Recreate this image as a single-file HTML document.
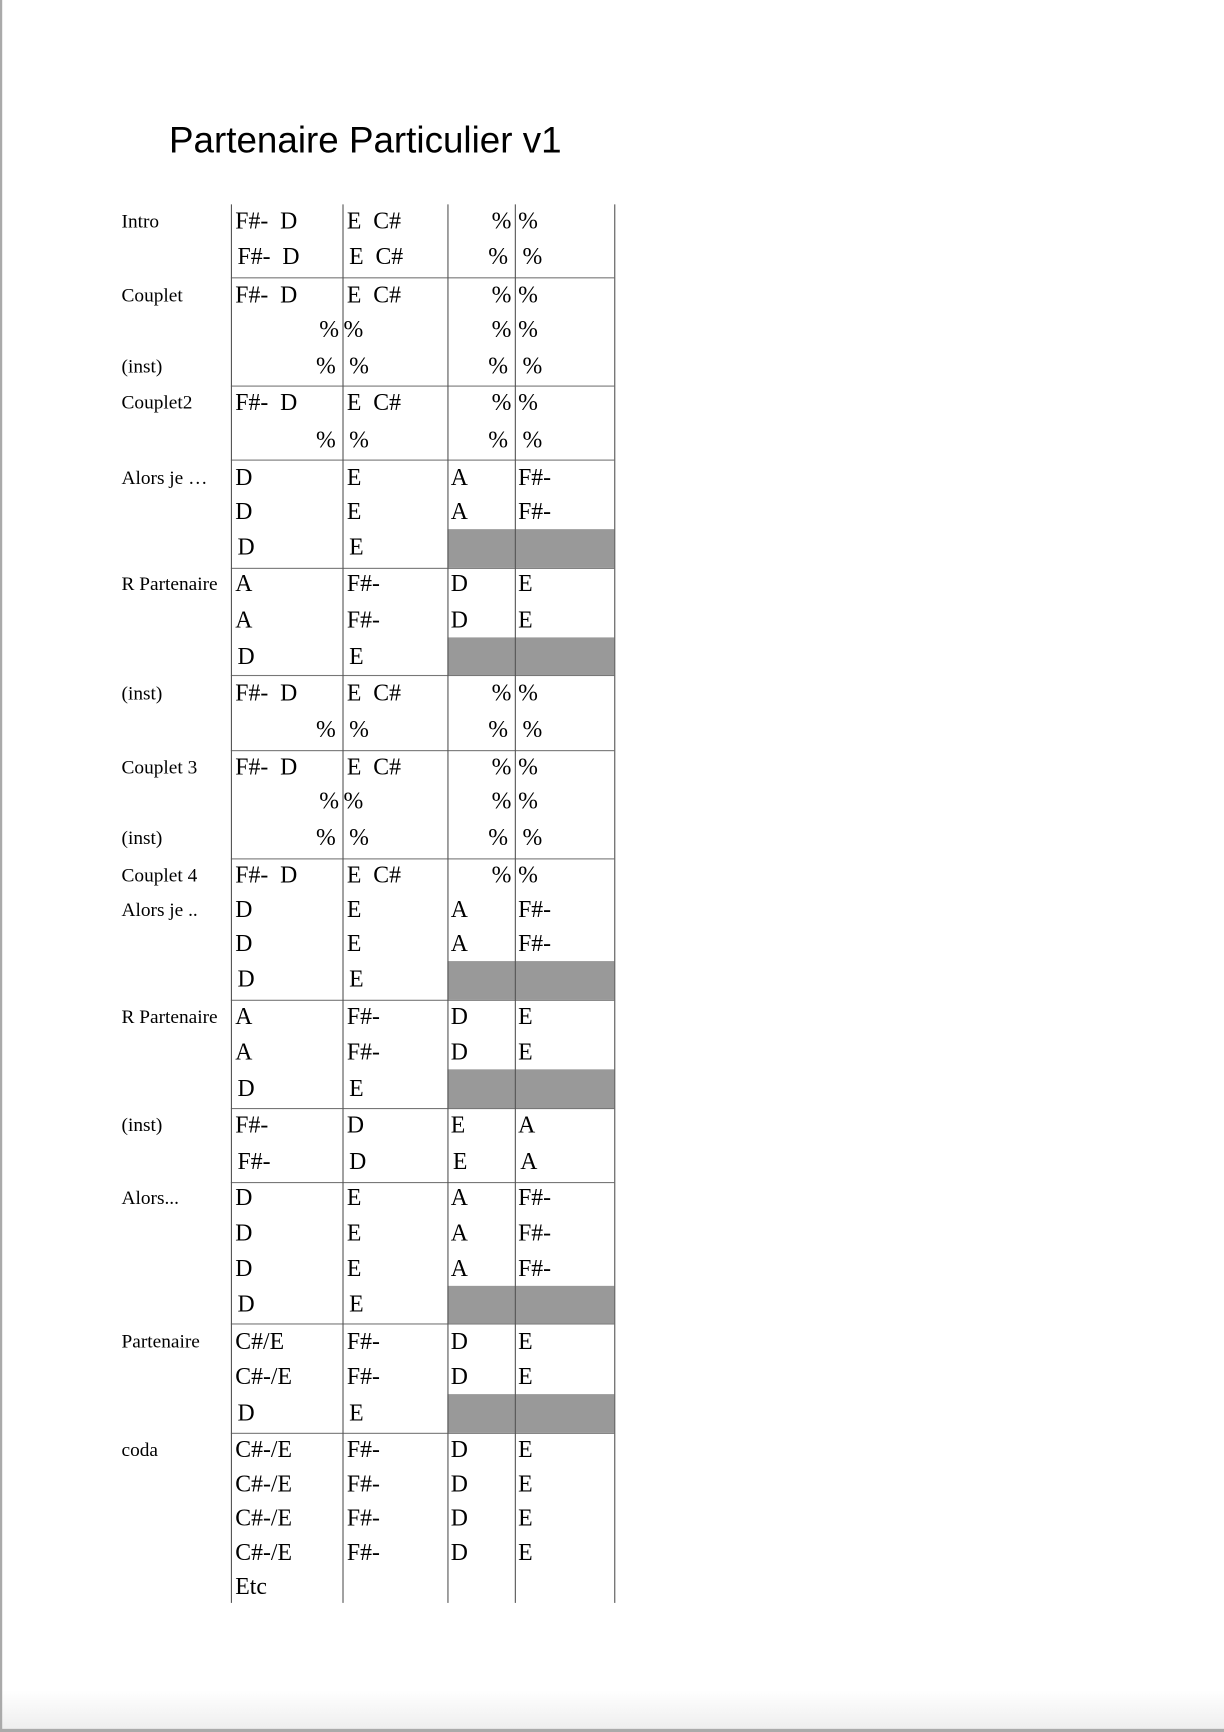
<!DOCTYPE html>
<html><head><meta charset="utf-8"><style>
html,body{margin:0;padding:0;background:#fff;width:1224px;height:1732px;overflow:hidden}
#wrap{position:absolute;left:0;top:0;width:1108px;height:1568px;transform:scale(1.10469);transform-origin:0 0;background:#fff}
.t{position:absolute;font-family:"Liberation Serif",serif;font-size:21.5px;line-height:20px;color:#000;white-space:pre}
.l{font-size:17.5px}
.vl{position:absolute;width:1px;background:#555}
.hl{position:absolute;height:1px;background:#777;left:209px;width:347px}
.g{position:absolute;background:#999;left:405px;width:151px}
</style></head><body>
<div id="wrap">
<div style="position:absolute;left:0;top:1530px;width:1108px;height:36px;background:linear-gradient(#fff,#eee)"></div>
<div style="position:absolute;left:0;top:1565px;width:1108px;height:3px;background:#aaa"></div>
<div style="position:absolute;left:0;top:0;width:2px;height:1568px;background:#aaa"></div>
<div class="t" style="left:153px;top:110px;font-family:'Liberation Sans',sans-serif;font-size:33.3px;line-height:36px">Partenaire Particulier v1</div>
<div id="grid"></div>
</div>
<script>
const rowLines=[251,349,416,514,611,679,777,905,1003,1070,1198,1297];
const colLines=[209,310,405,466,556];
const grayRows=[[479,514],[577,611],[870,905],[968,1003],[1164,1198],[1262,1297]];
const labels=[[200,'Intro'],[267,'Couplet'],[331,'(inst)'],[364,'Couplet2'],[432,'Alors je …'],[528,'R Partenaire'],[627,'(inst)'],[694,'Couplet 3'],[758,'(inst)'],[792,'Couplet 4'],[823,'Alors je ..'],[920,'R Partenaire'],[1018,'(inst)'],[1084,'Alors...'],[1214,'Partenaire'],[1312,'coda']];
const A1=['F#-  D',213,'E  C#',314,'%',445,'%',469];
const A2=['F#-  D',215,'E  C#',316,'%',442,'%',473];
const P1=['%',289,'%',311,'%',445,'%',469];
const P2=['%',286,'%',316,'%',442,'%',473];
const DEAF=['D',213,'E',314,'A',408,'F#-',469];
const DE=['D',215,'E',316];
const AFDE=['A',213,'F#-',314,'D',408,'E',469];
const CFDE=['C#-/E',213,'F#-',314,'D',408,'E',469];
const rows=[[200,A1],[232,A2],[267,A1],[298,P1],[331,P2],[364,A1],[398,P2],
[432,DEAF],[463,DEAF],[495,DE],[528,AFDE],[561,AFDE],[594,DE],
[627,A1],[660,P2],[694,A1],[725,P1],[758,P2],[792,A1],
[823,DEAF],[854,DEAF],[886,DE],[920,AFDE],[952,AFDE],[985,DE],
[1018,['F#-',213,'D',314,'E',408,'A',469]],[1051,['F#-',215,'D',316,'E',410,'A',471]],
[1084,DEAF],[1116,DEAF],[1148,DEAF],[1180,DE],
[1214,['C#/E',213,'F#-',314,'D',408,'E',469]],[1246,['C#-/E',213,'F#-',314,'D',408,'E',469]],[1279,DE],
[1312,CFDE],[1343,CFDE],[1374,CFDE],[1405,CFDE],[1436,['Etc',213]]];
const g=document.getElementById('grid');
grayRows.forEach(r=>{const d=document.createElement('div');d.className='g';


d.style.top=r[0]+'px';d.style.height=(r[1]-r[0])+'px';g.appendChild(d);});
rowLines.forEach(y=>{const d=document.createElement('div');d.className='hl';


d.style.top=y+'px';g.appendChild(d);});
colLines.forEach(x=>{const d=document.createElement('div');d.className='vl';


d.style.left=x+'px';d.style.top='185px';d.style.height='1266px';g.appendChild(d);});
labels.forEach(l=>{const d=document.createElement('div');d.className='t l';


d.style.left='110px';d.style.top=(l[0]-10)+'px';d.textContent=l[1];g.appendChild(d);});
rows.forEach(r=>{const it=r[1];for(let i=0;i<it.length;i+=2){const d=document.createElement('div');d.className='t';


d.style.left=it[i+1]+'px';d.style.top=(r[0]-10)+'px';d.textContent=it[i];g.appendChild(d);}});
</script>
</body></html>
